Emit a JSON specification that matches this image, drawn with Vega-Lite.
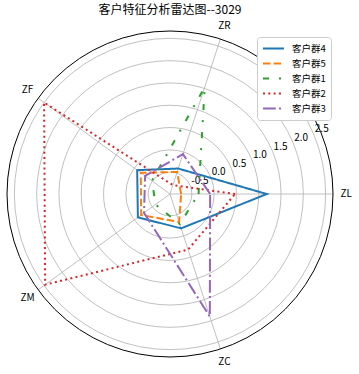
{
  "$schema": "https://vega.github.io/schema/vega-lite/v6.json",
  "width": 340,
  "height": 340,
  "autosize": {"type": "none"},
  "padding": {"left": 0, "top": 24, "right": 19, "bottom": 10},
  "background": "white",
  "config": {"view": {"stroke": null}, "font": "Noto Sans CJK SC"},
  "title": {"text": "客户特征分析雷达图--3029", "fontSize": 12, "fontWeight": "normal", "font": "Noto Sans CJK SC", "offset": 4, "color": "black"},
  "datasets": {
    "rings": [
      {"v": -0.5, "lab": "-0.5"},
      {"v": 0.0, "lab": "0.0"},
      {"v": 0.5, "lab": "0.5"},
      {"v": 1.0, "lab": "1.0"},
      {"v": 1.5, "lab": "1.5"},
      {"v": 2.0, "lab": "2.0"},
      {"v": 2.5, "lab": "2.5"}
    ],
    "dims": [{"dim": "ZL"}, {"dim": "ZR"}, {"dim": "ZF"}, {"dim": "ZM"}, {"dim": "ZC"}],
    "vals": [
      {"group": "客户群4", "dim": "ZL", "value": 1.18},
      {"group": "客户群4", "dim": "ZR", "value": -0.39},
      {"group": "客户群4", "dim": "ZF", "value": -0.08},
      {"group": "客户群4", "dim": "ZM", "value": -0.10},
      {"group": "客户群4", "dim": "ZC", "value": -0.18},
      {"group": "客户群5", "dim": "ZL", "value": -0.74},
      {"group": "客户群5", "dim": "ZR", "value": -0.47},
      {"group": "客户群5", "dim": "ZF", "value": -0.18},
      {"group": "客户群5", "dim": "ZM", "value": -0.19},
      {"group": "客户群5", "dim": "ZC", "value": -0.33},
      {"group": "客户群1", "dim": "ZL", "value": -0.35},
      {"group": "客户群1", "dim": "ZR", "value": 1.53},
      {"group": "客户群1", "dim": "ZF", "value": -0.49},
      {"group": "客户群1", "dim": "ZM", "value": -0.59},
      {"group": "客户群1", "dim": "ZC", "value": -0.28},
      {"group": "客户群2", "dim": "ZL", "value": 0.47},
      {"group": "客户群2", "dim": "ZR", "value": -0.78},
      {"group": "客户群2", "dim": "ZF", "value": 2.50},
      {"group": "客户群2", "dim": "ZM", "value": 2.47},
      {"group": "客户群2", "dim": "ZC", "value": 0.32},
      {"group": "客户群3", "dim": "ZL", "value": -0.09},
      {"group": "客户群3", "dim": "ZR", "value": -0.05},
      {"group": "客户群3", "dim": "ZF", "value": -0.30},
      {"group": "客户群3", "dim": "ZM", "value": -0.27},
      {"group": "客户群3", "dim": "ZC", "value": 1.90}
    ]
  },
  "layer": [
    {
      "data": {"name": "rings"},
      "mark": {"type": "arc", "filled": false, "stroke": "#b0b0b0", "strokeWidth": 0.8, "theta": 0, "theta2": 6.2832},
      "encoding": {
        "radius": {"field": "v", "type": "quantitative", "stack": null, "scale": {"type": "linear", "domain": [-0.99, 2.665], "range": [0, 163], "zero": false}, "legend": null},
        "radius2": {"datum": -0.99}
      }
    },
    {
      "data": {"name": "dims"},
      "transform": [
        {"calculate": "indexof(['ZL','ZR','ZF','ZM','ZC'], datum.dim) * 2 * PI / 5", "as": "a"},
        {"calculate": "3.655 * cos(datum.a)", "as": "ex"},
        {"calculate": "3.655 * sin(datum.a)", "as": "ey"},
        {"calculate": "3.95 * cos(datum.a)", "as": "lx"},
        {"calculate": "3.95 * sin(datum.a)", "as": "ly"},
        {"calculate": "0", "as": "o"}
      ],
      "layer": [
        {
          "mark": {"type": "rule", "stroke": "#b0b0b0", "strokeWidth": 0.8},
          "encoding": {
            "x": {"field": "o", "type": "quantitative", "scale": {"domain": [-3.8117, 3.8117]}, "axis": null},
            "y": {"field": "o", "type": "quantitative", "scale": {"domain": [-3.8117, 3.8117]}, "axis": null},
            "x2": {"field": "ex"},
            "y2": {"field": "ey"}
          }
        },
        {
          "mark": {"type": "text", "fontSize": 10, "align": "center", "baseline": "middle", "color": "black"},
          "encoding": {
            "x": {"field": "lx", "type": "quantitative", "scale": {"domain": [-3.8117, 3.8117]}, "axis": null},
            "y": {"field": "ly", "type": "quantitative", "scale": {"domain": [-3.8117, 3.8117]}, "axis": null},
            "text": {"field": "dim"}
          }
        }
      ]
    },
    {
      "data": {"values": [{"v": 2.665}]},
      "mark": {"type": "arc", "filled": false, "stroke": "black", "strokeWidth": 1, "theta": 0, "theta2": 6.2832},
      "encoding": {
        "radius": {"field": "v", "type": "quantitative", "stack": null, "scale": {"type": "linear", "domain": [-0.99, 2.665], "range": [0, 163], "zero": false}, "legend": null},
        "radius2": {"datum": -0.99}
      }
    },
    {
      "data": {"name": "rings"},
      "transform": [
        {"calculate": "(datum.v + 0.99) * cos(PI / 8)", "as": "tx"},
        {"calculate": "(datum.v + 0.99) * sin(PI / 8)", "as": "ty"}
      ],
      "mark": {"type": "text", "fontSize": 10, "align": "left", "baseline": "bottom", "color": "black", "dx": 1},
      "encoding": {
        "x": {"field": "tx", "type": "quantitative", "scale": {"domain": [-3.8117, 3.8117]}, "axis": null},
        "y": {"field": "ty", "type": "quantitative", "scale": {"domain": [-3.8117, 3.8117]}, "axis": null},
        "text": {"field": "lab"}
      }
    },
    {
      "data": {"name": "vals"},
      "transform": [
        {"calculate": "indexof(['ZL','ZR','ZF','ZM','ZC'], datum.dim)", "as": "i"},
        {"calculate": "datum.i * 2 * PI / 5", "as": "a"},
        {"calculate": "(datum.value + 0.99) * cos(datum.a)", "as": "px"},
        {"calculate": "(datum.value + 0.99) * sin(datum.a)", "as": "py"}
      ],
      "mark": {"type": "line", "interpolate": "linear-closed", "strokeWidth": 2},
      "encoding": {
        "x": {"field": "px", "type": "quantitative", "scale": {"domain": [-3.8117, 3.8117]}, "axis": null},
        "y": {"field": "py", "type": "quantitative", "scale": {"domain": [-3.8117, 3.8117]}, "axis": null},
        "order": {"field": "i", "type": "quantitative"},
        "color": {
          "field": "group", "type": "nominal",
          "scale": {"domain": ["客户群4", "客户群5", "客户群1", "客户群2", "客户群3"], "range": ["#1f77b4", "#ff7f0e", "#2ca02c", "#d62728", "#9467bd"]},
          "legend": {"title": null, "orient": "none", "legendX": 257, "legendY": 13, "symbolType": "stroke", "symbolStrokeWidth": 2, "symbolSize": 441, "labelFontSize": 9.5, "labelFont": "Noto Sans CJK SC", "labelColor": "black", "fillColor": "white", "strokeColor": "#cccccc", "padding": 5, "cornerRadius": 3, "clipHeight": 13, "rowPadding": 2, "labelOffset": 7}
        },
        "strokeDash": {
          "field": "group", "type": "nominal",
          "scale": {"domain": ["客户群4", "客户群5", "客户群1", "客户群2", "客户群3"], "range": [[1, 0], [7.4, 3.2], [6, 10, 2, 10], [2, 3.3], [12.8, 3.2, 2, 3.2]]},
          "legend": {"title": null, "orient": "none", "legendX": 257, "legendY": 13, "symbolType": "stroke", "symbolStrokeWidth": 2, "symbolSize": 441, "labelFontSize": 9.5, "labelFont": "Noto Sans CJK SC", "labelColor": "black", "fillColor": "white", "strokeColor": "#cccccc", "padding": 5, "cornerRadius": 3, "clipHeight": 13, "rowPadding": 2, "labelOffset": 7}
        }
      }
    }
  ]
}
